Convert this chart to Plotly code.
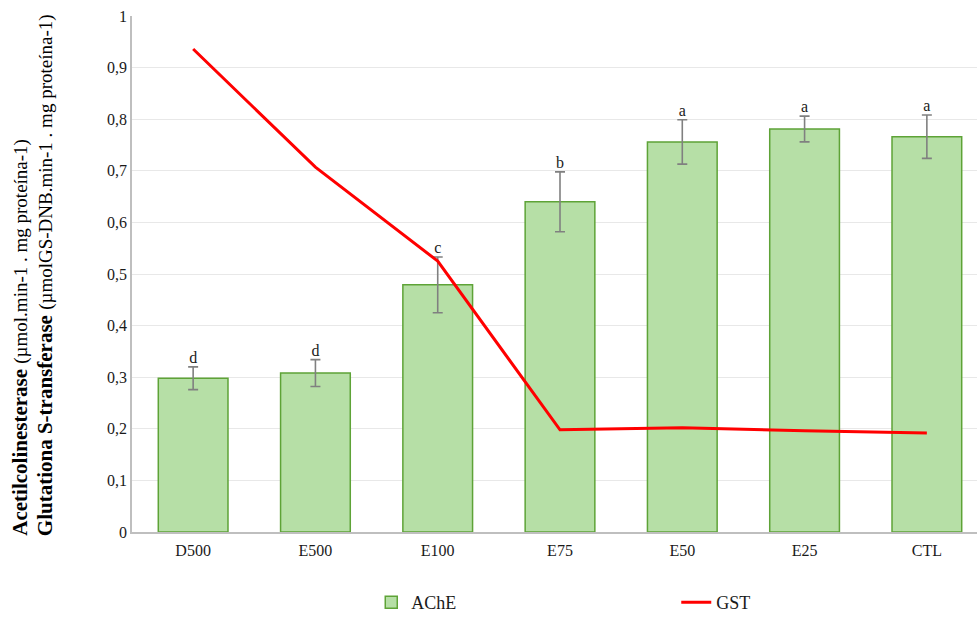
import plotly.graph_objects as go

categories = ["D500", "E500", "E100", "E75", "E50", "E25", "CTL"]
ache = [0.298, 0.308, 0.479, 0.640, 0.756, 0.781, 0.766]
ache_err = [0.022, 0.026, 0.054, 0.058, 0.043, 0.025, 0.042]
gst = [0.936, 0.707, 0.525, 0.198, 0.202, 0.196, 0.192]
letters = ["d", "d", "c", "b", "a", "a", "a"]

FONT = "Liberation Serif"

fig = go.Figure()
fig.add_trace(go.Bar(
    x=categories, y=ache, name="AChE", width=0.57,
    marker=dict(color="#B6DFA6", line=dict(color="#5EA337", width=1.5)),
    error_y=dict(type="data", array=ache_err, color="#808080", thickness=1.6, width=5),
))
fig.add_trace(go.Scatter(
    x=categories, y=gst, name="GST", mode="lines",
    line=dict(color="#FF0000", width=3),
))
fig.add_trace(go.Scatter(
    x=categories, y=[v + e for v, e in zip(ache, ache_err)], mode="text",
    text=letters, textposition="top center", showlegend=False, hoverinfo="skip",
    textfont=dict(family=FONT, size=16, color="#1a1a1a"),
))

line1 = "<b>Acetilcolinesterase</b> <span style='font-size:19px'>(µmol.min-1 . mg proteína-1)</span>"
line2 = "<b>Glutationa S-transferase</b> <span style='font-size:19px'>(µmolGS-DNB.min-1 . mg proteína-1)</span>"

for txt, xp in [(line1, -0.1325), (line2, -0.103)]:
    fig.add_annotation(text=txt, xref="paper", yref="paper", x=xp, y=-0.012,
                       xanchor="center", yanchor="bottom", textangle=-90, showarrow=False,
                       font=dict(family=FONT, size=21, color="#000000"))

fig.update_layout(
    width=977, height=621,
    margin=dict(l=132, r=0, t=16, b=89, autoexpand=False),
    plot_bgcolor="white", paper_bgcolor="white",
    separators=",.",
    font=dict(family=FONT, size=16, color="#1a1a1a"),
    showlegend=True,
    legend=dict(orientation="h", xref="container", yref="container", x=0.380, xanchor="left",
                y=0.0, yanchor="bottom", bgcolor="rgba(0,0,0,0)",
                entrywidth=260, font=dict(family=FONT, size=18, color="#1a1a1a")),
    xaxis=dict(range=[-0.5, 6.41], showgrid=False, showline=True, linecolor="#BFBFBF",
               linewidth=1.5, ticks="", ticklabelstandoff=3, tickfont=dict(family=FONT, size=16)),
    yaxis=dict(range=[0, 1], dtick=0.1, showgrid=True, gridcolor="#E8E8E8", gridwidth=1,
               showline=True, linecolor="#BFBFBF", linewidth=1.5, ticks="", zeroline=False,
               tickfont=dict(family=FONT, size=16)),
)

fig.write_html("out.html")
